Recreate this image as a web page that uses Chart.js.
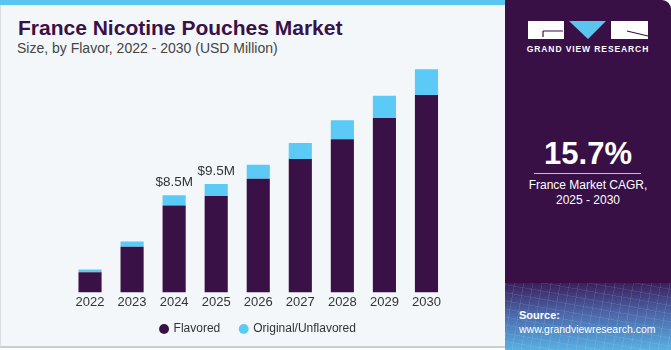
<!DOCTYPE html>
<html>
<head>
<meta charset="utf-8">
<script src="https://cdn.jsdelivr.net/npm/chart.js@4.4.0/dist/chart.umd.min.js"></script>
<style>
  html, body { margin: 0; padding: 0; }
  body { width: 671px; height: 350px; position: relative; overflow: hidden; background: #ffffff; font-family: "Liberation Sans", Arial, sans-serif; }
  #left { position: absolute; left: 0; top: 0; width: 505px; height: 348px; background: #f3f7fa; border-left: 1px solid #d9dee3; border-bottom: 2px solid #c9ced3; box-sizing: border-box; }
  #stripe { position: absolute; left: 0; top: 0; width: 505px; height: 5px; background: #5cc5ef; }
  #title { position: absolute; left: 18px; top: 17px; font-size: 21px; line-height: 21px; font-weight: bold; color: #3a1147; white-space: nowrap; }
  #subtitle { position: absolute; left: 17px; top: 41px; font-size: 14px; line-height: 14px; color: #444; white-space: nowrap; }
  #chartBox { position: absolute; left: 0; top: 50px; width: 505px; height: 304px; }
  #right { position: absolute; left: 505px; top: 0; width: 166px; height: 350px; background: #381046; border-top-right-radius: 9px; overflow: hidden; }
  #brand { position: absolute; left: 0; width: 166px; top: 44px; text-align: center; color: #fff; font-size: 8.5px; font-weight: bold; letter-spacing: 0.9px; }
  #cagr { position: absolute; left: 0; width: 166px; top: 140px; text-align: center; color: #fff; font-size: 31px; line-height: 28px; font-weight: bold; }
  #rule { position: absolute; left: 29px; width: 107px; top: 173px; height: 1px; background: #c9bfd0; }
  #cagrText { position: absolute; left: 0; width: 166px; top: 178px; text-align: center; color: #fff; font-size: 12px; line-height: 15px; }
  #srcBg { position: absolute; left: 0; top: 283px; width: 166px; height: 67px;
    background:
      repeating-linear-gradient(100deg, rgba(255,255,255,0.09) 0 1px, transparent 1px 9px),
      repeating-linear-gradient(10deg, rgba(255,255,255,0.08) 0 1px, transparent 1px 8px),
      linear-gradient(to bottom, #3b1f5c 0%, #4a66a8 45%, #58b0e4 100%); }
  #src { position: absolute; left: 14px; top: 308px; color: #fff; font-size: 10.5px; line-height: 14px; }
  #src b { font-size: 11px; }
</style>
</head>
<body>
<div id="left"></div>
<div id="stripe"></div>
<div id="title">France Nicotine Pouches Market</div>
<div id="subtitle">Size, by Flavor, 2022 - 2030 (USD Million)</div>
<div id="chartBox"><canvas id="chart"></canvas></div>

<div id="right">
  <svg style="position:absolute;left:0;top:0" width="166" height="44">
    <rect x="23" y="21" width="36" height="18" fill="#fff"/>
    <path d="M38 31 H58 M38 31 V37" stroke="#381046" stroke-width="1.2" fill="none"/>
    <polygon points="64,21 101,21 83,39" fill="#5cc5ef"/>
    <rect x="106" y="21" width="37" height="18" fill="#fff"/>
    <path d="M122 31 L143 36" stroke="#381046" stroke-width="1.2" fill="none"/>
  </svg>
  <div id="brand">GRAND VIEW RESEARCH</div>
  <div id="cagr">15.7%</div>
  <div id="rule"></div>
  <div id="cagrText">France Market CAGR,<br>2025 - 2030</div>
  <div id="srcBg"></div>
  <div id="src"><b>Source:</b><br>www.grandviewresearch.com</div>
</div>

<script>
// categories and values (USD Million)
const years = ["2022", "2023", "2024", "2025", "2026", "2027", "2028", "2029", "2030"];
const flavored = [1.77, 3.99, 7.62, 8.45, 9.96, 11.68, 13.42, 15.28, 17.29];
const original = [0.24, 0.46, 0.88, 1.05, 1.22, 1.40, 1.66, 1.95, 2.25];
const totalLabels = ["", "", "$8.5M", "$9.5M", "", "", "", "", ""];

// writes the total above the few bars that carry one
const totalLabelPlugin = {
  id: "totalLabels",
  afterDatasetsDraw(chart) {
    const ctx = chart.ctx;
    const meta = chart.getDatasetMeta(1);
    ctx.save();
    ctx.font = "13.5px 'Liberation Sans', Arial, sans-serif";
    ctx.fillStyle = "#333333";
    ctx.textAlign = "center";
    ctx.textBaseline = "bottom";
    meta.data.forEach((bar, i) => {
      if (totalLabels[i]) ctx.fillText(totalLabels[i], bar.x, bar.y - 6);
    });
    ctx.restore();
  }
};

// legend padding also sets the gap between items, so lift the box a bit afterwards
const liftLegend = {
  id: "liftLegend",
  afterLayout(chart) {
    const lg = chart.legend;
    if (!lg) return;
    lg.top -= 9;
    lg.bottom -= 9;
  }
};

new Chart(document.getElementById("chart").getContext("2d"), {
  type: "bar",
  data: {
    labels: years,
    datasets: [
      { label: "Flavored", data: flavored, backgroundColor: "#3a1147" },
      { label: "Original/Unflavored", data: original, backgroundColor: "#5ccaf6" }
    ]
  },
  options: {
    responsive: true,
    maintainAspectRatio: false,
    animation: false,
    categoryPercentage: 0.55,
    barPercentage: 1,
    layout: { padding: { left: 69, right: 57.5, top: 14, bottom: 0 } },
    plugins: {
      legend: {
        position: "bottom",
        labels: {
          usePointStyle: true,
          pointStyle: "circle",
          boxWidth: 7,
          boxHeight: 7,
          padding: 20,
          color: "#333333",
          font: { family: "'Liberation Sans', Arial, sans-serif", size: 12 }
        }
      },
      tooltip: { enabled: false }
    },
    scales: {
      x: {
        stacked: true,
        grid: { display: false, drawTicks: false },
        border: { display: false },
        ticks: { color: "#333333", padding: 2, font: { family: "'Liberation Sans', Arial, sans-serif", size: 13 } }
      },
      y: {
        stacked: true,
        display: false,
        min: 0,
        max: 20
      }
    }
  },
  plugins: [totalLabelPlugin, liftLegend]
});
</script>
</body>
</html>
